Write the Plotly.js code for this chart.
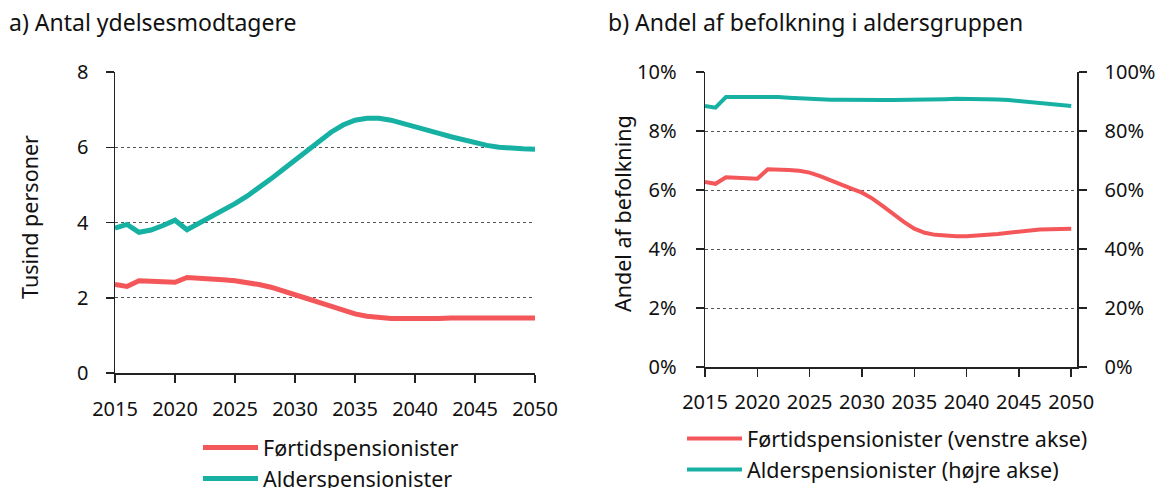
<!DOCTYPE html>
<html>
<head>
<meta charset="utf-8">
<script src="https://cdn.plot.ly/plotly-3.0.1.min.js"></script>
<style>html,body{margin:0;padding:0;background:#fff;}#chart{width:1161px;height:488px;}</style>
</head>
<body>
<div id="chart"></div>
<script>
// ---- data ----
const years = [2015,2016,2017,2018,2019,2020,2021,2022,2023,2024,2025,2026,2027,2028,2029,2030,2031,2032,2033,2034,2035,2036,2037,2038,2039,2040,2041,2042,2043,2044,2045,2046,2047,2048,2049,2050];
// a) Antal ydelsesmodtagere (tusind personer)
const antalFortid = [2.35,2.30,2.45,2.44,2.42,2.41,2.54,2.53,2.51,2.48,2.45,2.41,2.35,2.28,2.19,2.08,1.98,1.88,1.78,1.67,1.57,1.51,1.47,1.45,1.45,1.44,1.44,1.45,1.46,1.46,1.47,1.48,1.48,1.48,1.47,1.46];
const antalAlder = [3.85,3.95,3.74,3.80,3.92,4.06,3.81,3.98,4.15,4.32,4.50,4.70,4.92,5.16,5.41,5.66,5.92,6.17,6.40,6.59,6.72,6.77,6.77,6.72,6.64,6.55,6.46,6.37,6.28,6.20,6.12,6.05,6.00,5.97,5.96,5.95];
// b) Andel af befolkning i aldersgruppen (pct.)
const andelFortid = [6.27,6.21,6.43,6.42,6.40,6.38,6.70,6.70,6.68,6.65,6.59,6.47,6.32,6.17,6.05,5.91,5.71,5.45,5.18,4.92,4.69,4.55,4.48,4.44,4.43,4.43,4.45,4.48,4.51,4.55,4.59,4.63,4.66,4.67,4.67,4.69];
const andelAlder = [88.5,87.9,91.5,91.5,91.5,91.5,91.7,91.5,91.3,91.1,90.8,90.7,90.6,90.6,90.5,90.5,90.5,90.5,90.5,90.5,90.5,90.6,90.7,90.8,90.9,90.9,90.9,90.8,90.7,90.5,90.2,89.8,89.4,89.0,88.7,88.5];
const xTicks = [2015,2020,2025,2030,2035,2040,2045,2050];
const namesA = ["Førtidspensionister","Alderspensionister"];
const namesB = ["Førtidspensionister (venstre akse)","Alderspensionister (højre akse)"];
const titleA = "a) Antal ydelsesmodtagere";
const titleB = "b) Andel af befolkning i aldersgruppen";
const yTitleA = "Tusind personer";
const yTitleB = "Andel af befolkning";

// ---- style ----
const RED = "#F4575A", TEAL = "#17B1A4";
const W = 1161, H = 488;
const FONT = "Noto Sans, Open Sans, sans-serif";
const px = v => v / W, py = v => 1 - v / H;

const traces = [
  {x: years, y: antalFortid, name: namesA[0], type: "scatter", mode: "lines", xaxis: "x", yaxis: "y",
   line: {color: RED, width: 5}, legend: "legend", legendgroup: "a1"},
  {x: years, y: antalAlder, name: namesA[1], type: "scatter", mode: "lines", xaxis: "x", yaxis: "y",
   line: {color: TEAL, width: 5}, legend: "legend", legendgroup: "a2"},
  {x: years, y: andelFortid, name: namesB[0], type: "scatter", mode: "lines", xaxis: "x2", yaxis: "y2",
   line: {color: RED, width: 4}, legend: "legend2", legendgroup: "b1"},
  {x: years, y: andelAlder, name: namesB[1], type: "scatter", mode: "lines", xaxis: "x2", yaxis: "y3",
   line: {color: TEAL, width: 4}, legend: "legend2", legendgroup: "b2"}
];

const axLine = {showline: true, linecolor: "#222", linewidth: 1.5, ticks: "outside", ticklen: 8,
  tickcolor: "#222", tickwidth: 1.5, zeroline: false, tickfont: {family: FONT, size: 20, color: "#111"}};
const grid = {showgrid: true, gridcolor: "#555", gridwidth: 1, griddash: "dot"};
const legFont = {family: FONT, size: 21.5, color: "#111"};

const layout = {
  width: W, height: H,
  margin: {l: 0, r: 0, t: 0, b: 0, autoexpand: false},
  paper_bgcolor: "#fff", plot_bgcolor: "#fff",
  font: {family: FONT, color: "#111"},
  showlegend: true,
  xaxis: Object.assign({}, axLine, {domain: [px(115), px(535)], range: [2015, 2050], tickvals: xTicks,
    showgrid: false, anchor: "y", ticklabelstandoff: 9}),
  yaxis: Object.assign({}, axLine, grid, {domain: [py(373), py(72)], range: [0, 8], dtick: 2, tick0: 0,
    anchor: "x", ticklabelstandoff: 13}),
  xaxis2: Object.assign({}, axLine, {domain: [px(705), px(1077)], range: [2015, 2050.55], tickvals: xTicks,
    showgrid: false, anchor: "y2", ticklabelstandoff: 8}),
  yaxis2: Object.assign({}, axLine, grid, {domain: [py(367), py(72)], range: [0, 10], dtick: 2, tick0: 0,
    ticksuffix: "%", anchor: "x2", ticklabelstandoff: 15}),
  yaxis3: Object.assign({}, axLine, {overlaying: "y2", side: "right", range: [0, 100], dtick: 20, tick0: 0,
    ticksuffix: "%", anchor: "x2", showgrid: false, ticklabelstandoff: 14}),
  legend: {x: px(198), y: py(427), xanchor: "left", yanchor: "top", xref: "paper", yref: "paper",
    font: legFont, tracegroupgap: 12, itemwidth: 55, bgcolor: "rgba(0,0,0,0)", traceorder: "normal"},
  legend2: {x: px(682), y: py(418), xanchor: "left", yanchor: "top", xref: "paper", yref: "paper",
    font: legFont, tracegroupgap: 12, itemwidth: 55, bgcolor: "rgba(0,0,0,0)", traceorder: "normal"},
  annotations: [
    {text: titleA, xref: "paper", yref: "paper", x: px(7), y: py(22), xanchor: "left", yanchor: "middle",
     showarrow: false, font: {family: FONT, size: 23, color: "#111"}},
    {text: titleB, xref: "paper", yref: "paper", x: px(606), y: py(22), xanchor: "left", yanchor: "middle",
     showarrow: false, font: {family: FONT, size: 23, color: "#111"}},
    {text: yTitleA, xref: "paper", yref: "paper", x: px(29), y: py(217), xanchor: "center", yanchor: "middle",
     textangle: -90, showarrow: false, font: {family: FONT, size: 21.5, color: "#111"}},
    {text: yTitleB, xref: "paper", yref: "paper", x: px(622), y: py(214), xanchor: "center", yanchor: "middle",
     textangle: -90, showarrow: false, font: {family: FONT, size: 21.5, color: "#111"}}
  ]
};

Plotly.newPlot("chart", traces, layout, {displayModeBar: false, staticPlot: true});
</script>
</body>
</html>
